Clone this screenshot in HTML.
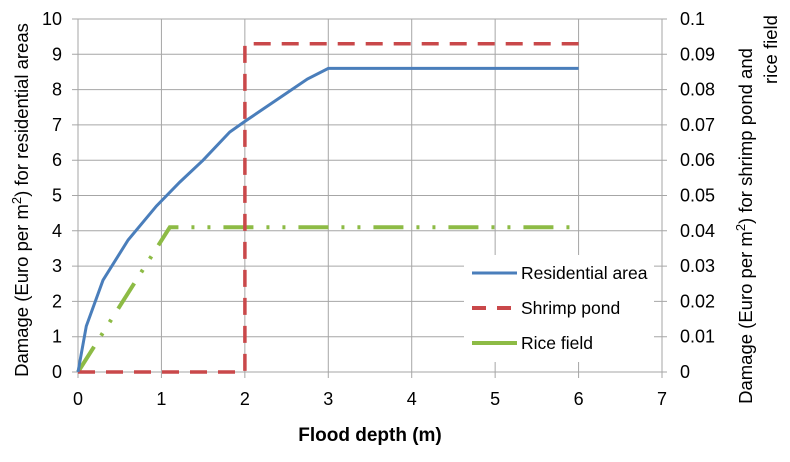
<!DOCTYPE html>
<html><head><meta charset="utf-8"><style>
html,body{margin:0;padding:0;background:#fff;}
svg text{font-family:"Liberation Sans",sans-serif;fill:#000;}
</style></head><body>
<svg id="chart" width="790" height="457" xmlns="http://www.w3.org/2000/svg"></svg>
<script>
const xTicks=[0,1,2,3,4,5,6,7];
const yTicks=[0,1,2,3,4,5,6,7,8,9,10];
const y2Ticks=["0","0.01","0.02","0.03","0.04","0.05","0.06","0.07","0.08","0.09","0.1"];
const resX=[0,0.1,0.3,0.6,0.94,1.22,1.5,1.82,2,2.5,2.75,3,6];
const resY=[0,1.3,2.6,3.74,4.7,5.38,6.0,6.8,7.1,7.9,8.3,8.6,8.6];
const shrimpX=[0,2,2,6];
const shrimpY=[0,0,0.093,0.093];
const riceX=[0,1.1,6];
const riceY=[0,0.041,0.041];
const NS="http://www.w3.org/2000/svg";
const svg=document.getElementById('chart');
const L=78,R=662,T=19,B=372;
const sx=v=>L+(R-L)*v/7;
const sy=v=>B-(B-T)*v/10;
const sy2=v=>B-(B-T)*v/0.1;
function mk(tag,attrs,parent){const e=document.createElementNS(NS,tag);for(const k in attrs)e.setAttribute(k,attrs[k]);(parent||svg).appendChild(e);return e;}
yTicks.forEach(v=>{const l=mk('line',{x1:L-6,x2:R+5,y1:sy(v),y2:sy(v),stroke:'#a6a6a6','stroke-width':1});


const t=mk('text',{x:L-16,y:sy(v)+6,'font-size':18,'text-anchor':'end'});t.textContent=v;

});
y2Ticks.forEach((s,i)=>{const t=mk('text',{x:680,y:sy(i)+6,'font-size':18});t.textContent=s;

});
xTicks.forEach(v=>{const l=mk('line',{x1:sx(v),x2:sx(v),y1:T,y2:B+6,stroke:'#a6a6a6','stroke-width':1});


const t=mk('text',{x:sx(v),y:405,'font-size':18,'text-anchor':'middle'});t.textContent=v;

});
function path(xs,ys,f){return xs.map((x,i)=>(i?'L':'M')+sx(x).toFixed(1)+','+f(ys[i]).toFixed(1)).join(' ');}
const rice=mk('path',{d:path(riceX,riceY,sy2),fill:'none',stroke:'#8dbb45','stroke-width':4,'stroke-dasharray':'30 13 3 13 3 13'});


const shrimp=mk('path',{d:path(shrimpX,shrimpY,sy2),fill:'none',stroke:'#c9484a','stroke-width':3.5,'stroke-dasharray':'17 11'});


const res=mk('path',{d:path(resX,resY,sy),fill:'none',stroke:'#4a7ebb','stroke-width':3});


const lg=mk('g',{});


mk('rect',{x:464,y:255,width:190,height:107,fill:'#fff'},lg);
const items=[['Residential area','#4a7ebb',''],['Shrimp pond','#c9484a','14 11'],['Rice field','#8dbb45','']];
items.forEach((it,i)=>{const y=273+i*35;
mk('line',{x1:472,x2:517,y1:y,y2:y,stroke:it[1],'stroke-width':i==0?3:4,'stroke-dasharray':it[2]},lg);
const t=mk('text',{x:521,y:y+6,'font-size':17.5},lg);t.textContent=it[0];

});
const xt=mk('text',{x:370,y:441,'font-size':19,'font-weight':'bold','text-anchor':'middle'});xt.textContent='Flood depth (m)';


const yt=mk('text',{x:0,y:0,'font-size':18.5,'text-anchor':'middle',transform:'translate(28,200) rotate(-90)'});
yt.innerHTML='Damage (Euro per m<tspan dy="-7" font-size="13">2</tspan><tspan dy="7">) for  residential areas</tspan>';


const y2t=mk('text',{x:0,y:0,'font-size':18.5,'text-anchor':'middle',transform:'translate(752,226) rotate(-90)'});
y2t.innerHTML='Damage (Euro per m<tspan dy="-7" font-size="13">2</tspan><tspan dy="7">) for shrimp pond and</tspan>';


const y2t2=mk('text',{x:0,y:0,'font-size':18.5,'text-anchor':'start',transform:'translate(777,84) rotate(-90)'});
y2t2.textContent='rice field';


</script>
</body></html>
